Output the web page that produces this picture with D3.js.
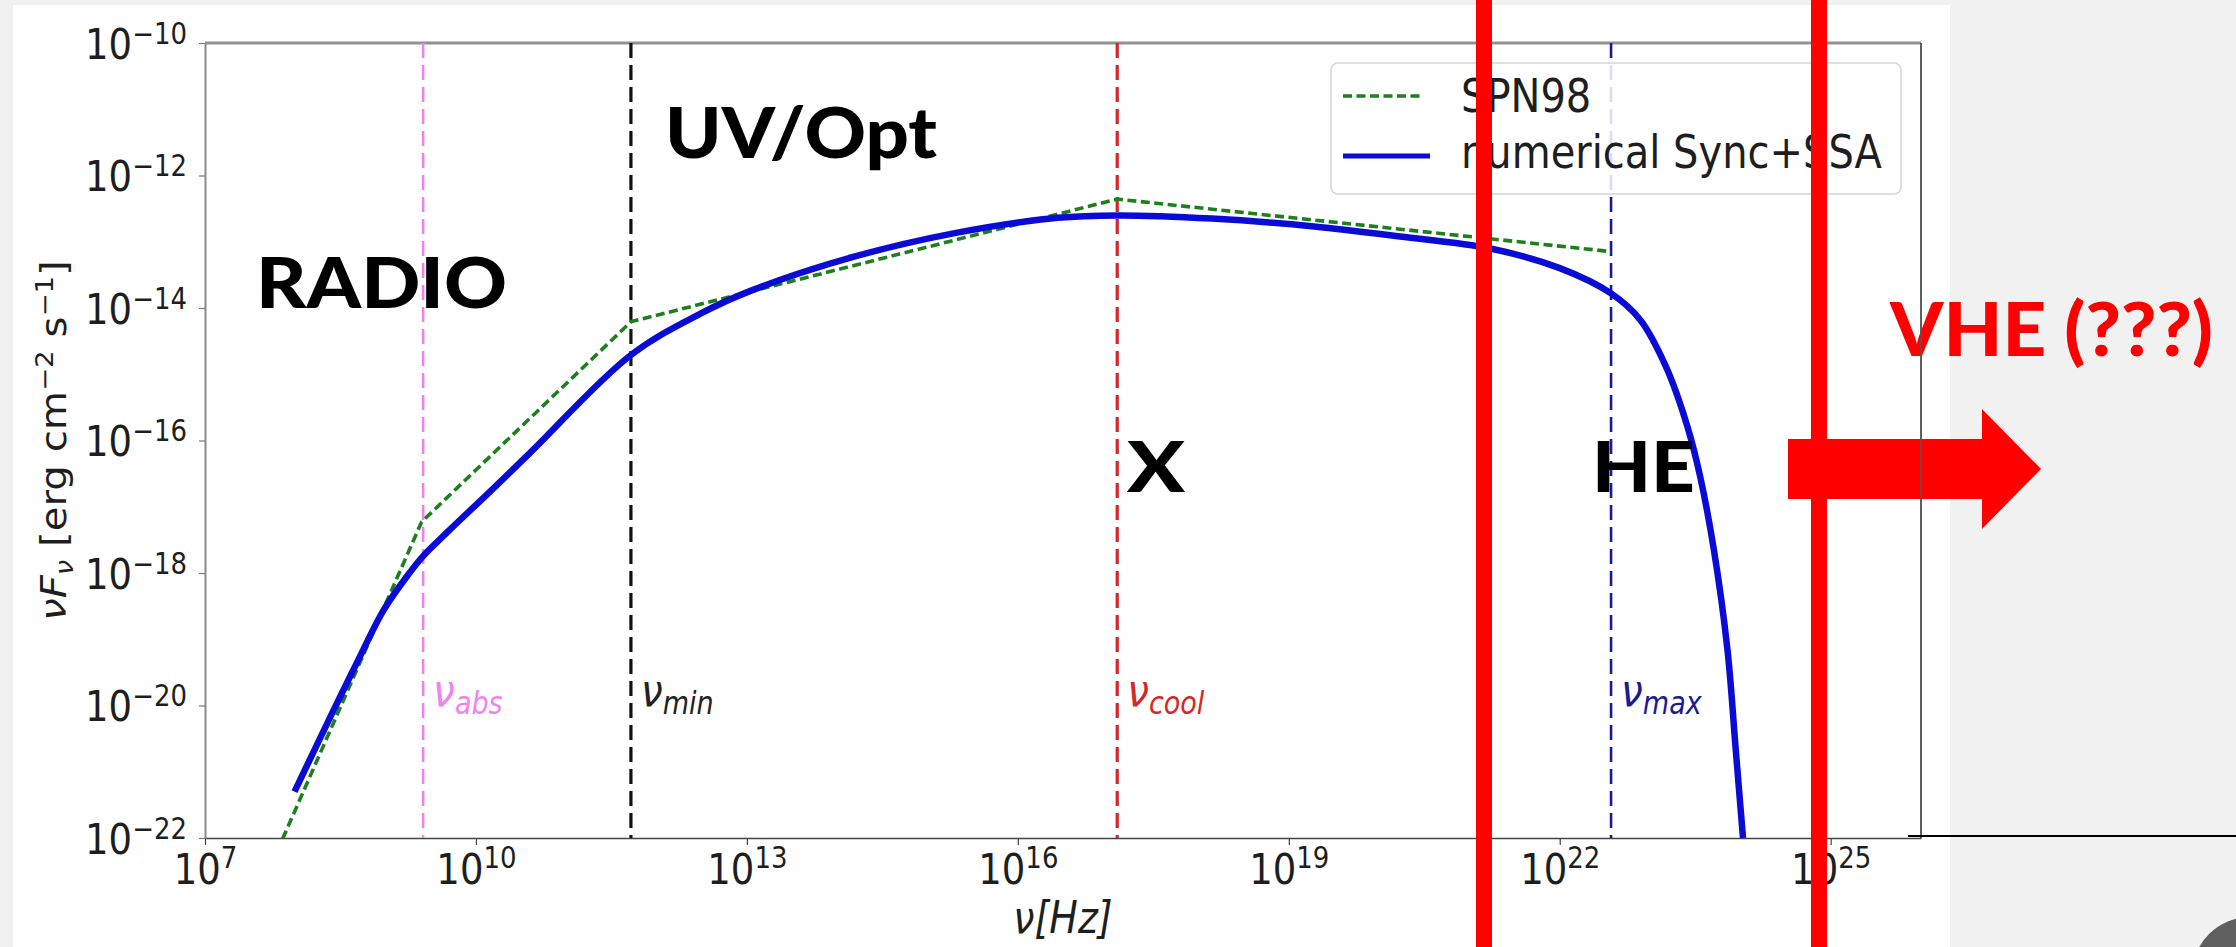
<!DOCTYPE html>
<html>
<head>
<meta charset="utf-8">
<script src="https://cdn.jsdelivr.net/npm/d3@7"></script>
<style>
  html, body { margin: 0; padding: 0; background: #f1f1f1; }
  svg { display: block; }
</style>
</head>
<body>
<svg id="sed" width="2236" height="947"></svg>
<script>
// tick exponents (log axes)
var xTickExp = [7, 10, 13, 16, 19, 22, 25];
var yTickExp = [-10, -12, -14, -16, -18, -20, -22];

// SPN98 broken power law (green, dashed)
var spnNu   = [6.3e7, 2.5e9, 5.2e11, 1.26e17, 3.7e22];
var spnFlux = [6.3e-23, 5.9e-18, 6.2e-15, 4.4e-13, 7.1e-14];

// numerical Sync+SSA (blue, solid)
var syncNu = [9.8e7, 2.45e8, 4.8e8, 9.5e8, 1.7e9, 2.6e9, 4.7e9, 1.5e10, 4.1e10,
              5.2e11, 3.1e12, 1.15e13, 1.5e14, 2.0e15, 2.75e16, 1.26e17, 1.4e18,
              1.9e19, 1.7e20, 1.7e21, 1.0e22, 3.7e22, 7.8e22, 1.5e23, 2.6e23,
              3.6e23, 5.1e23, 7.2e23, 8.9e23, 1.07e24];
var syncFlux = [5.0e-22, 6.8e-21, 4.4e-20, 2.75e-19, 8.7e-19, 1.8e-18, 4.0e-18, 1.8e-17, 6.8e-17,
                1.95e-15, 8.3e-15, 1.86e-14, 5.9e-14, 1.35e-13, 2.3e-13, 2.5e-13, 2.24e-13,
                1.7e-13, 1.2e-13, 7.9e-14, 4.0e-14, 1.66e-14, 6.6e-15, 1.3e-15, 1.6e-16,
                2.8e-17, 2.2e-18, 6.9e-20, 2.1e-21, 1.0e-22];

// characteristic frequencies
var breakNames  = ["abs", "min", "cool", "max"];
var breakNu     = [2.6e9, 5.2e11, 1.26e17, 3.7e22];
var breakColors = ["#ee82ee", "#111111", "#d62728", "#1a1a96"];

// legend + band labels
var seriesNames = ["SPN98", "numerical Sync+SSA"];
var bandNames = ["RADIO", "UV/Opt", "X", "HE"];
var vheLabel = "VHE (???)";

// ---------------------------------------------------------------

var svg = d3.select("#sed");
var SY = 1.15; // the figure is a bit stretched vertically on the slide
var FONT = "DejaVu Sans, sans-serif";

var x = d3.scaleLog().domain([1e7, 1e26]).range([205, 1921]);
var y = d3.scaleLog().domain([1e-22, 1e-10]).range([838, 43]);

// slide + white figure
svg.append("rect").attr("width", 2236).attr("height", 947).attr("fill", "#f1f1f1");
svg.append("rect").attr("x", 13).attr("y", 5).attr("width", 1937).attr("height", 942).attr("fill", "#fff");

svg.append("clipPath").attr("id", "plotClip")
    .append("rect")
    .attr("x", x.range()[0]).attr("y", y.range()[1])
    .attr("width", x.range()[1] - x.range()[0])
    .attr("height", y.range()[0] - y.range()[1]);

function stretchedText(parent, tx, ty) {
    return parent.append("text")
        .attr("transform", "translate(" + tx + "," + ty + ") scale(1," + SY + ")")
        .style("font-family", FONT);
}

// axes
var xAxis = svg.append("g")
    .attr("transform", "translate(0," + y.range()[0] + ")")
    .call(d3.axisBottom(x)
        .tickValues(xTickExp.map(function (e) { return Math.pow(10, e); }))
        .tickSize(7).tickSizeOuter(0).tickFormat(""));
xAxis.select(".domain").attr("stroke", "#444").attr("stroke-width", 1.6);
xAxis.selectAll(".tick line").attr("stroke", "#444").attr("stroke-width", 1.2);
xAxis.selectAll(".tick text").remove();
xAxis.selectAll(".tick").each(function (d, i) {
    var t = stretchedText(d3.select(this), 0, 46)
        .attr("text-anchor", "middle").attr("fill", "#1e1e1e").style("font-size", "37px");
    t.append("tspan").text("10");
    t.append("tspan").attr("dy", -14).style("font-size", "26px").text(xTickExp[i]);
});

var yAxis = svg.append("g")
    .attr("transform", "translate(" + x.range()[0] + ",0)")
    .call(d3.axisLeft(y)
        .tickValues(yTickExp.map(function (e) { return Math.pow(10, e); }))
        .tickSize(6).tickSizeOuter(0).tickFormat(""));
yAxis.select(".domain").attr("stroke", "#8a8a8a").attr("stroke-width", 2);
yAxis.selectAll(".tick line").attr("stroke", "#777").attr("stroke-width", 1.2);
yAxis.selectAll(".tick text").remove();
yAxis.selectAll(".tick").each(function (d, i) {
    var t = stretchedText(d3.select(this), -18, 15)
        .attr("text-anchor", "end").attr("fill", "#1e1e1e").style("font-size", "37px");
    t.append("tspan").text("10");
    t.append("tspan").attr("dy", -13).style("font-size", "26px")
        .text("\u2212" + Math.abs(yTickExp[i]));
});

// top + right spines
svg.append("line")
    .attr("x1", x.range()[0]).attr("x2", x.range()[1])
    .attr("y1", y.range()[1]).attr("y2", y.range()[1])
    .attr("stroke", "#919191").attr("stroke-width", 3);
svg.append("line")
    .attr("x1", x.range()[1]).attr("x2", x.range()[1])
    .attr("y1", y.range()[1]).attr("y2", y.range()[0])
    .attr("stroke", "#555").attr("stroke-width", 1.6);

// axis labels
stretchedText(svg, (x.range()[0] + x.range()[1]) / 2, 933)
    .attr("text-anchor", "middle").attr("fill", "#1e1e1e")
    .style("font-size", "38px").style("font-style", "italic")
    .text("\u03bd[Hz]");

var yl = svg.append("g")
    .attr("transform", "translate(66," + (y.range()[0] + y.range()[1]) / 2 + ") rotate(-90) scale(" + SY + ",1)")
    .append("text")
    .attr("text-anchor", "middle").attr("fill", "#1e1e1e")
    .style("font-family", FONT).style("font-size", "35px");
yl.append("tspan").style("font-style", "italic").text("\u03bdF");
yl.append("tspan").style("font-style", "italic").style("font-size", "24px").attr("dy", 7).text("\u03bd");
yl.append("tspan").attr("dy", -7).text(" [erg cm");
yl.append("tspan").style("font-size", "24px").attr("dy", -13).text("\u22122");
yl.append("tspan").attr("dy", 13).text(" s");
yl.append("tspan").style("font-size", "24px").attr("dy", -13).text("\u22121");
yl.append("tspan").attr("dy", 13).text("]");

// plot content
var plot = svg.append("g").attr("clip-path", "url(#plotClip)");

plot.selectAll(".vline")
    .data(breakNu)
    .enter()
    .append("line")
    .attr("class", "vline")
    .attr("x1", function (d) { return x(d); })
    .attr("x2", function (d) { return x(d); })
    .attr("y1", y.range()[1]).attr("y2", y.range()[0])
    .attr("stroke", function (d, i) { return breakColors[i]; })
    .attr("stroke-width", function (d, i) { return i === 1 || i === 2 ? 3.2 : 2.6; })
    .attr("stroke-dasharray", "15,7");

breakNu.forEach(function (nu, i) {
    var t = stretchedText(svg, x(nu) + 10, y(1e-20))
        .attr("fill", breakColors[i] === "#111111" ? "#222" : breakColors[i])
        .style("font-size", "39px").style("font-style", "italic");
    t.append("tspan").text("\u03bd");
    t.append("tspan").attr("dy", 7).style("font-size", "27px").text(breakNames[i]);
});

var spnData = d3.zip(spnNu, spnFlux);
var syncData = d3.zip(syncNu, syncFlux);

plot.append("path")
    .datum(spnData)
    .attr("fill", "none")
    .attr("stroke", "#1d801d")
    .attr("stroke-width", 3.6)
    .attr("stroke-dasharray", "9,4.5")
    .attr("d", d3.line()
        .x(function (d) { return x(d[0]); })
        .y(function (d) { return y(d[1]); }));

plot.append("path")
    .datum(syncData)
    .attr("fill", "none")
    .attr("stroke", "#0b0bd6")
    .attr("stroke-width", 6.5)
    .attr("stroke-linejoin", "round")
    .attr("d", d3.line()
        .curve(d3.curveCatmullRom.alpha(0.5))
        .x(function (d) { return x(d[0]); })
        .y(function (d) { return y(d[1]); }));

// legend
var legend = svg.append("g");
legend.append("rect")
    .attr("x", 1331).attr("y", 63).attr("width", 570).attr("height", 131)
    .attr("rx", 7).attr("fill", "#fff").attr("fill-opacity", 0.85)
    .attr("stroke", "#d4d4d4").attr("stroke-width", 1.5);
legend.append("line")
    .attr("x1", 1343).attr("x2", 1422).attr("y1", 96).attr("y2", 96)
    .attr("stroke", "#1d801d").attr("stroke-width", 3.6).attr("stroke-dasharray", "9,4.5");
legend.append("line")
    .attr("x1", 1343).attr("x2", 1430).attr("y1", 156).attr("y2", 156)
    .attr("stroke", "#0b0bd6").attr("stroke-width", 5);
seriesNames.forEach(function (name, i) {
    stretchedText(legend, 1461, 112 + i * 56)
        .attr("fill", "#1e1e1e").style("font-size", "40px").text(name);
});

// band annotations from the slide
var bandX = [256, 665, 1127, 1592];
var bandBase = [308, 158, 492, 492];
var bandWidth = [251, 272, 58, 103];
bandNames.forEach(function (name, i) {
    svg.append("text")
        .attr("x", bandX[i]).attr("y", bandBase[i])
        .attr("textLength", bandWidth[i]).attr("lengthAdjust", "spacingAndGlyphs")
        .style("font-family", "Lato, sans-serif").style("font-weight", 900)
        .style("font-size", "70px").attr("fill", "#000")
        .text(name);
});

// red overlays
[1484, 1819].forEach(function (xx) {
    svg.append("rect").attr("x", xx - 8).attr("y", 0).attr("width", 16).attr("height", 947).attr("fill", "#ff0000");
});
svg.append("polygon")
    .attr("points", "1788,439 1982,439 1982,409 2041,469 1982,529 1982,499 1788,499")
    .attr("fill", "#ff0000");
svg.append("text")
    .attr("x", 1890).attr("y", 356)
    .attr("textLength", 323).attr("lengthAdjust", "spacingAndGlyphs")
    .style("font-family", "Lato, sans-serif").style("font-weight", 900)
    .style("font-size", "74px").attr("fill", "#ff0000")
    .text(vheLabel);

// right spine shows through the overlay
svg.append("line")
    .attr("x1", x.range()[1]).attr("x2", x.range()[1])
    .attr("y1", y.range()[1]).attr("y2", y.range()[0])
    .attr("stroke", "#555").attr("stroke-width", 1.4);

// slide line + page badge
svg.append("line").attr("x1", 1908).attr("x2", 2236).attr("y1", 836).attr("y2", 836)
    .attr("stroke", "#000").attr("stroke-width", 2.2);
svg.append("circle").attr("cx", 2250).attr("cy", 975).attr("r", 58).attr("fill", "#5f5f5f");
</script>
</body>
</html>
